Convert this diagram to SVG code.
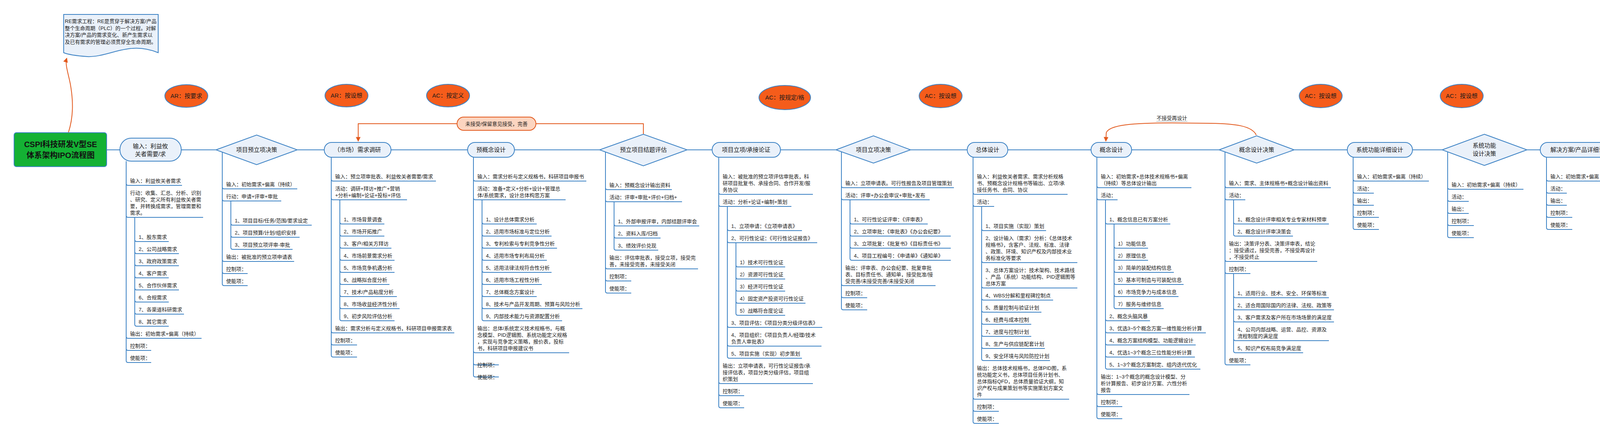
<svg xmlns="http://www.w3.org/2000/svg" width="6850" height="1125" viewBox="0 0 6850 1125">
<style>
.c{fill:none;stroke:#3C82C4;stroke-width:2}
.n{fill:#EAF1FA;stroke:#3C82C4;stroke-width:2}
.t{font-family:"Liberation Sans","Noto Sans CJK SC",sans-serif;font-size:13px;fill:#1a1a1a}
.nt{font-family:"Liberation Sans","Noto Sans CJK SC",sans-serif;font-size:15px;fill:#1a1a1a;text-anchor:middle}
.o{fill:none;stroke:#E2581C;stroke-width:2}
.e{fill:#F55C1B;stroke:#3C82C4;stroke-width:2}
</style>
<defs>
<marker id="ah" viewBox="0 0 10 10" refX="9" refY="5" markerWidth="6" markerHeight="6" orient="auto"><path d="M0,0 L10,5 L0,10 z" fill="#E2581C"/></marker>
</defs>
<rect width="6850" height="1125" fill="#fff"/>

<g id="connectors">
<path class="c" d="M273,384H6604"/>
<path class="c" d="M323,413V924 M345,557V831 M323,470Q323,475 328,475H466 M323,552Q323,557 328,557H520 M323,862Q323,867 328,867H516 M323,893Q323,898 328,898H387 M323,924Q323,929 328,929H387 M345,614Q345,619 350,619H432 M345,645Q345,650 350,650H458 M345,676Q345,681 350,681H458 M345,707Q345,712 350,712H432 M345,738Q345,743 350,743H458 M345,769Q345,774 350,774H432 M345,800Q345,805 350,805H471 M345,831Q345,836 350,836H432"/>
<path class="c" d="M569,384V727 M591,515V634 M569,479Q569,484 574,484H761 M569,510Q569,515 574,515H720 M569,665Q569,670 574,670H753 M569,696Q569,701 574,701H634 M569,727Q569,732 574,732H634 M591,572Q591,577 596,577H798 M591,603Q591,608 596,608H767 M591,634Q591,639 596,639H749"/>
<path class="c" d="M848,403V910 M870,512V817 M848,459Q848,464 853,464H1116 M848,507Q848,512 853,512H1042 M848,848Q848,853 853,853H1163 M848,879Q848,884 853,884H914 M848,910Q848,915 853,915H914 M870,569Q870,574 875,574H984 M870,600Q870,605 875,605H984 M870,631Q870,636 875,636H1002 M870,662Q870,667 875,667H1010 M870,693Q870,698 875,698H1010 M870,724Q870,729 875,729H997 M870,755Q870,760 875,760H1016 M870,786Q870,791 875,791H1023 M870,817Q870,822 875,822H1010"/>
<path class="c" d="M1212,403V961 M1234,512V817 M1212,459Q1212,464 1217,464H1501 M1212,507Q1212,512 1217,512H1448 M1212,899Q1212,904 1217,904H1457 M1212,930Q1212,935 1217,935H1277 M1212,961Q1212,966 1217,966H1277 M1234,569Q1234,574 1239,574H1374 M1234,600Q1234,605 1239,605H1412 M1234,631Q1234,636 1239,636H1426 M1234,662Q1234,667 1239,667H1400 M1234,693Q1234,698 1239,698H1412 M1234,724Q1234,729 1239,729H1387 M1234,755Q1234,760 1239,760H1374 M1234,786Q1234,791 1239,791H1491 M1234,817Q1234,822 1239,822H1439"/>
<path class="c" d="M1550,384V746 M1572,517V636 M1550,481Q1550,486 1555,486H1720 M1550,512Q1550,517 1555,517H1746 M1550,684Q1550,689 1555,689H1787 M1550,715Q1550,720 1555,720H1616 M1550,746Q1550,751 1555,751H1616 M1572,574Q1572,579 1577,579H1790 M1572,605Q1572,610 1577,610H1691 M1572,636Q1572,641 1577,641H1685"/>
<path class="c" d="M1840,403V1040 M1862,529V913 M1884,622V803 M1840,493Q1840,498 1845,498H2081 M1840,524Q1840,529 1845,529H2026 M1840,978Q1840,983 1845,983H2081 M1840,1009Q1840,1014 1845,1014H1905 M1840,1040Q1840,1045 1845,1045H1905 M1862,586Q1862,591 1867,591H2053 M1862,617Q1862,622 1867,622H2092 M1862,834Q1862,839 1867,839H2105 M1862,882Q1862,887 1867,887H2103 M1862,913Q1862,918 1867,918H2053 M1884,679Q1884,684 1889,684H2010 M1884,710Q1884,715 1889,715H2010 M1884,741Q1884,746 1889,746H2010 M1884,772Q1884,777 1889,777H2062 M1884,803Q1884,808 1889,808H2010"/>
<path class="c" d="M2154,384V789 M2176,512V662 M2154,476Q2154,481 2159,481H2442 M2154,507Q2154,512 2159,512H2380 M2154,727Q2154,732 2159,732H2395 M2154,758Q2154,763 2159,763H2220 M2154,789Q2154,794 2159,794H2220 M2176,569Q2176,574 2181,574H2375 M2176,600Q2176,605 2181,605H2434 M2176,631Q2176,636 2181,636H2434 M2176,662Q2176,667 2181,667H2434"/>
<path class="c" d="M2491,403V1080 M2513,529V919 M2491,493Q2491,498 2496,498H2733 M2491,524Q2491,529 2496,529H2545 M2491,1018Q2491,1023 2496,1023H2737 M2491,1049Q2491,1054 2496,1054H2557 M2491,1080Q2491,1085 2496,1085H2557 M2513,586Q2513,591 2518,591H2678 M2513,668Q2513,673 2518,673H2758 M2513,733Q2513,738 2518,738H2758 M2513,764Q2513,769 2518,769H2696 M2513,795Q2513,800 2518,800H2666 M2513,826Q2513,831 2518,831H2640 M2513,857Q2513,862 2518,862H2640 M2513,888Q2513,893 2518,893H2675 M2513,919Q2513,924 2518,924H2688"/>
<path class="c" d="M2808,403V1068 M2830,512V941 M2852,574V786 M2808,476Q2808,481 2813,481H3050 M2808,507Q2808,512 2813,512H2861 M2808,1006Q2808,1011 2813,1011H3045 M2808,1037Q2808,1042 2813,1042H2873 M2808,1068Q2808,1073 2813,1073H2873 M2830,569Q2830,574 2835,574H2996 M2830,817Q2830,822 2835,822H2944 M2830,848Q2830,853 2835,853H3087 M2830,879Q2830,884 2835,884H3061 M2830,910Q2830,915 2835,915H3059 M2830,941Q2830,946 2835,946H3073 M2852,631Q2852,636 2857,636H2939 M2852,662Q2852,667 2857,667H2939 M2852,693Q2852,698 2857,698H3005 M2852,724Q2852,729 2857,729H3030 M2852,755Q2852,760 2857,760H3017 M2852,786Q2852,791 2857,791H2979"/>
<path class="c" d="M3136,384V930 M3158,512V600 M3158,701V899 M3136,476Q3136,481 3141,481H3407 M3136,507Q3136,512 3141,512H3188 M3136,665Q3136,670 3141,670H3372 M3136,696Q3136,701 3141,701H3201 M3136,930Q3136,935 3141,935H3201 M3158,569Q3158,574 3163,574H3402 M3158,600Q3158,605 3163,605H3310 M3158,758Q3158,763 3163,763H3402 M3158,789Q3158,794 3163,794H3415 M3158,820Q3158,825 3163,825H3415 M3158,868Q3158,873 3163,873H3402 M3158,899Q3158,904 3163,904H3336"/>
<path class="c" d="M3464,403V583 M3464,459Q3464,464 3469,464H3658 M3464,490Q3464,495 3469,495H3517 M3464,521Q3464,526 3469,526H3517 M3464,552Q3464,557 3469,557H3530 M3464,583Q3464,588 3469,588H3530"/>
<path class="c" d="M3706,384V604 M3706,480Q3706,485 3711,485H3900 M3706,511Q3706,516 3711,516H3760 M3706,542Q3706,547 3711,547H3760 M3706,573Q3706,578 3711,578H3773 M3706,604Q3706,609 3711,609H3773"/>
<path class="c" d="M3959,403V583 M3959,459Q3959,464 3964,464H4153 M3959,490Q3959,495 3964,495H4011 M3959,521Q3959,526 3964,526H4011 M3959,552Q3959,557 3964,557H4025 M3959,583Q3959,588 3964,588H4025"/>
<path class="c" d="M4201,384V604 M4201,480Q4201,485 4206,485H4395 M4201,511Q4201,516 4206,516H4255 M4201,542Q4201,547 4206,547H4255 M4201,573Q4201,578 4206,578H4267 M4201,604Q4201,609 4206,609H4267"/>
<path class="c" d="M4453,403V583 M4453,459Q4453,464 4458,464H4647 M4453,490Q4453,495 4458,495H4507 M4453,521Q4453,526 4458,526H4507 M4453,552Q4453,557 4458,557H4520 M4453,583Q4453,588 4458,588H4520"/>
<path class="c" d="M4757,384V604 M4757,480Q4757,485 4762,485H4951 M4757,511Q4757,516 4762,516H4810 M4757,542Q4757,547 4762,547H4810 M4757,573Q4757,578 4762,578H4823 M4757,604Q4757,609 4762,609H4823"/>
<path class="c" d="M5023,403V583 M5023,459Q5023,464 5028,464H5217 M5023,490Q5023,495 5028,495H5076 M5023,521Q5023,526 5028,526H5076 M5023,552Q5023,557 5028,557H5089 M5023,583Q5023,588 5028,588H5089"/>
<path class="c" d="M5265,403V583 M5265,459Q5265,464 5270,464H5459 M5265,490Q5265,495 5270,495H5319 M5265,521Q5265,526 5270,526H5319 M5265,552Q5265,557 5270,557H5332 M5265,583Q5265,588 5270,588H5332"/>
<path class="c" d="M5508,403V583 M5508,459Q5508,464 5513,464H5702 M5508,490Q5508,495 5513,495H5561 M5508,521Q5508,526 5513,526H5561 M5508,552Q5508,557 5513,557H5574 M5508,583Q5508,588 5513,588H5574"/>
<path class="c" d="M5751,403V583 M5751,459Q5751,464 5756,464H5945 M5751,490Q5751,495 5756,495H5804 M5751,521Q5751,526 5756,526H5804 M5751,552Q5751,557 5756,557H5817 M5751,583Q5751,588 5756,588H5817"/>
<path class="c" d="M5993,403V851 M6015,512V724 M5993,476Q5993,481 5998,481H6230 M5993,507Q5993,512 5998,512H6047 M5993,789Q5993,794 5998,794H6230 M5993,820Q5993,825 5998,825H6059 M5993,851Q5993,856 5998,856H6059 M6015,569Q6015,574 6020,574H6168 M6015,600Q6015,605 6020,605H6155 M6015,631Q6015,636 6020,636H6129 M6015,662Q6015,667 6020,667H6194 M6015,693Q6015,698 6020,698H6194 M6015,724Q6015,729 6020,729H6208"/>
<path class="c" d="M6279,403V893 M6301,495V800 M6279,459Q6279,464 6284,464H6472 M6279,490Q6279,495 6284,495H6331 M6279,831Q6279,836 6284,836H6331 M6279,862Q6279,867 6284,867H6345 M6279,893Q6279,898 6284,898H6345 M6301,552Q6301,557 6306,557H6388 M6301,583Q6301,588 6306,588H6413 M6301,614Q6301,619 6306,619H6519 M6301,645Q6301,650 6306,650H6440 M6301,676Q6301,681 6306,681H6440 M6301,707Q6301,712 6306,712H6440 M6301,738Q6301,743 6306,743H6427 M6301,769Q6301,774 6306,774H6571 M6301,800Q6301,805 6306,805H6466"/>
<path class="c" d="M6620,403V583 M6620,459Q6620,464 6625,464H6814 M6620,490Q6620,495 6625,495H6673 M6620,521Q6620,526 6625,526H6673 M6620,552Q6620,557 6625,557H6685 M6620,583Q6620,588 6625,588H6685"/>
<path class="o" d="M175,340C188,300 188,260 180,215C174,185 166,165 171,149" marker-end="url(#ah)"/>
<path class="o" d="M1170,317H917V362" marker-end="url(#ah)"/>
<path class="o" d="M1372,317H1647V345"/>
<path class="o" d="M3216,346C3205,322 3160,317 3100,316L3000,315C2900,315 2840,320 2832,340L2831,362" marker-end="url(#ah)"/>
<line x1="2960" y1="311" x2="3040" y2="311" stroke="#9a9a9a" stroke-width="1"/>
<text class="t" x="3000" y="307" text-anchor="middle" fill="#555">不接受再设计</text>
</g>

<g id="note">
<path d="M163,37H405V135C385,127 365,122 339,124C300,126 260,147 223,145C195,143 175,140 163,135Z" fill="#EAF1FA" stroke="#3C82C4" stroke-width="2"/>
<text class="t" x="166" y="59">RE需求工程：RE是贯穿于解决方案/产品<tspan x="166" dy="17.6">整个生命周期（PLC）的一个过程。对解</tspan><tspan x="166" dy="17.6">决方案/产品的需求变化、新产生需求以</tspan><tspan x="166" dy="17.6">及已有需求的管理必须贯穿全生命周期。</tspan></text>
</g>

<g id="root">
<rect x="36" y="340" width="237" height="87" rx="6" fill="#14B134" stroke="#3C82C4" stroke-width="2"/>
<text x="155" y="377" text-anchor="middle" font-family="Liberation Sans,Noto Sans CJK SC,sans-serif" font-size="20" font-weight="bold" fill="#111">CSPI科技研发V型SE<tspan x="155" dy="28">体系架构IPO流程图</tspan></text>
</g>

<g id="labels">
<g id="ar1"><ellipse class="e" cx="477" cy="246" rx="55" ry="29"/><text class="nt" x="477" y="251">AR：按要求</text></g>
<g id="ar2"><ellipse class="e" cx="887" cy="245" rx="55" ry="29"/><text class="nt" x="887" y="250">AR：按设想</text></g>
<g id="ac1"><ellipse class="e" cx="1147" cy="245" rx="55" ry="29"/><text class="nt" x="1147" y="250">AC：按定义</text></g>
<g id="ac2"><ellipse class="e" cx="2009" cy="250" rx="66" ry="31"/><text class="nt" x="2009" y="255">AC：按规定/格</text></g>
<g id="ac3"><ellipse class="e" cx="2408" cy="246" rx="55" ry="30"/><text class="nt" x="2408" y="251">AC：按设想</text></g>
<g id="ac4"><ellipse class="e" cx="3381" cy="246" rx="55" ry="30"/><text class="nt" x="3381" y="251">AC：按设想</text></g>
<g id="ac5"><ellipse class="e" cx="3742" cy="246" rx="55" ry="30"/><text class="nt" x="3742" y="251">AC：按设想</text></g>
<g id="feedback"><rect x="1170" y="300" width="202" height="34" rx="17" fill="#FCD5C0" stroke="#E2581C" stroke-width="2"/><text class="t" x="1271" y="322" text-anchor="middle">未接受/保留意见接受，完善</text></g>
</g>

<g id="n1">
<rect class="n" x="307" y="354" width="157" height="59" rx="29"/>
<text class="nt" x="385" y="380">输入：利益攸<tspan x="385" dy="20">关者需要/求</tspan></text>
<text class="t" x="333" y="468">输入：利益攸关者需求</text>
<text class="t" x="333" y="499">行动：收集、汇总、分析、识别<tspan x="333" dy="17">、研究、定义所有利益攸关者需</tspan><tspan x="333" dy="17">要，并转换成需求，管理需要和</tspan><tspan x="333" dy="17">需求。</tspan></text>
<text class="t" x="355" y="612">1、股东需求</text>
<text class="t" x="355" y="643">2、公司战略需求</text>
<text class="t" x="355" y="674">3、政府政策需求</text>
<text class="t" x="355" y="705">4、客户需求</text>
<text class="t" x="355" y="736">5、合作伙伴需求</text>
<text class="t" x="355" y="767">6、合规需求</text>
<text class="t" x="355" y="798">7、各渠道科研需求</text>
<text class="t" x="355" y="829">8、其它需求</text>
<text class="t" x="333" y="860">输出：初始需求+偏离（持续）</text>
<text class="t" x="333" y="891">控制项：</text>
<text class="t" x="333" y="922">使能项：</text>
</g>

<g id="n2">
<polygon class="n" points="553,384 657,346 761,384 657,422"/>
<text class="nt" x="657" y="389">项目预立项决策</text>
<text class="t" x="579" y="477">输入：初始需求+偏离（持续）</text>
<text class="t" x="579" y="508">行动：申请+评审+审批</text>
<text class="t" x="601" y="570">1、项目目标/任务/范围/要求设定</text>
<text class="t" x="601" y="601">2、项目预算/计划/组织安排</text>
<text class="t" x="601" y="632">3、项目预立项评审-审批</text>
<text class="t" x="579" y="663">输出：被批准的预立项申请表</text>
<text class="t" x="579" y="694">控制项：</text>
<text class="t" x="579" y="725">使能项：</text>
</g>

<g id="n3">
<rect class="n" x="830" y="365" width="171" height="38" rx="19"/>
<text class="nt" x="915" y="389">（市场）需求调研</text>
<text class="t" x="858" y="457">输入：预立项审批表、利益攸关者需要/需求</text>
<text class="t" x="858" y="488">活动：调研+拜访+推广+营销<tspan x="858" dy="17">+分析+编制+论证+投标+评估</tspan></text>
<text class="t" x="880" y="567">1、市场背景调查</text>
<text class="t" x="880" y="598">2、市场开拓推广</text>
<text class="t" x="880" y="629">3、客户/相关方拜访</text>
<text class="t" x="880" y="660">4、市场前景需求分析</text>
<text class="t" x="880" y="691">5、市场竞争机遇分析</text>
<text class="t" x="880" y="722">6、战略拟合度分析</text>
<text class="t" x="880" y="753">7、技术/产品粘度分析</text>
<text class="t" x="880" y="784">8、市场收益经济性分析</text>
<text class="t" x="880" y="815">9、初步风险评估分析</text>
<text class="t" x="858" y="846">输出：需求分析与定义规格书，科研项目申报需求表</text>
<text class="t" x="858" y="877">控制项：</text>
<text class="t" x="858" y="908">使能项：</text>
</g>

<g id="n4">
<rect class="n" x="1197" y="365" width="120" height="38" rx="19"/>
<text class="nt" x="1257" y="389">预概念设计</text>
<text class="t" x="1222" y="457">输入：需求分析与定义规格书，科研项目申报书</text>
<text class="t" x="1222" y="488">活动：准备+定义+分析+设计+管理总<tspan x="1222" dy="17">体/系统需求，设计总体构思方案</tspan></text>
<text class="t" x="1244" y="567">1、设计总体需求分析</text>
<text class="t" x="1244" y="598">2、适用市场标准与定位分析</text>
<text class="t" x="1244" y="629">3、专利检索与专利竞争性分析</text>
<text class="t" x="1244" y="660">4、适用市场专利布局分析</text>
<text class="t" x="1244" y="691">5、适用法律法规符合性分析</text>
<text class="t" x="1244" y="722">6、适用市场工程性分析</text>
<text class="t" x="1244" y="753">7、总体概念方案设计</text>
<text class="t" x="1244" y="784">8、技术与产品开发周期、预算与风险分析</text>
<text class="t" x="1244" y="815">9、内部技术能力与资源配置分析</text>
<text class="t" x="1222" y="846">输出：总体/系统定义技术规格书，与概<tspan x="1222" dy="17">念模型、PID逻辑图、系统功能定义规格</tspan><tspan x="1222" dy="17">，实现与竞争定义策略，报价表，投标</tspan><tspan x="1222" dy="17">书，科研项目申报建议书</tspan></text>
<text class="t" x="1222" y="940">控制项：</text>
<text class="t" x="1222" y="971">使能项：</text>
</g>

<g id="n5">
<polygon class="n" points="1535,384 1647,344 1759,384 1647,425"/>
<text class="nt" x="1647" y="389">预立项目结题评估</text>
<text class="t" x="1560" y="479">输入：预概念设计输出资料</text>
<text class="t" x="1560" y="510">活动：评审+审批+评价+归档+</text>
<text class="t" x="1582" y="572">1、外部申报评审，内部结题评审会</text>
<text class="t" x="1582" y="603">2、资料入库/归档</text>
<text class="t" x="1582" y="634">3、绩效评价兑现</text>
<text class="t" x="1560" y="665">输出：评估审批表，接受立项，接受完<tspan x="1560" dy="17">善，未接受完善，未接受关闭</tspan></text>
<text class="t" x="1560" y="713">控制项：</text>
<text class="t" x="1560" y="744">使能项：</text>
</g>

<g id="n6">
<rect class="n" x="1823" y="365" width="175" height="38" rx="19"/>
<text class="nt" x="1910" y="389">项目立项/承接论证</text>
<text class="t" x="1850" y="457">输入：被批准的预立项评估审批表，科<tspan x="1850" dy="17">研项目批复书、承接合同、合作开发/服</tspan><tspan x="1850" dy="17">务协议</tspan></text>
<text class="t" x="1850" y="522">活动：分析+论证+编制+策划</text>
<text class="t" x="1872" y="584">1、立项申请：《立项申请表》</text>
<text class="t" x="1872" y="615">2、可行性论证：《可行性论证报告》</text>
<text class="t" x="1894" y="677">1）技术可行性论证</text>
<text class="t" x="1894" y="708">2）资源可行性论证</text>
<text class="t" x="1894" y="739">3）经济可行性论证</text>
<text class="t" x="1894" y="770">4）固定资产投资可行性论证</text>
<text class="t" x="1894" y="801">5）战略符合度论证</text>
<text class="t" x="1872" y="832">3、项目评估：《项目分类分级评估表》</text>
<text class="t" x="1872" y="863">4、项目组织：《项目负责人/经理/技术<tspan x="1872" dy="17">负责人审批表》</tspan></text>
<text class="t" x="1872" y="911">5、项目实施（实现）初步策划</text>
<text class="t" x="1850" y="942">输出：立项申请表，可行性论证报告/承<tspan x="1850" dy="17">接评估表，项目分类分级评估，项目组</tspan><tspan x="1850" dy="17">织策划</tspan></text>
<text class="t" x="1850" y="1007">控制项：</text>
<text class="t" x="1850" y="1038">使能项：</text>
</g>

<g id="n7">
<polygon class="n" points="2140,384 2236,348 2331,384 2236,418"/>
<text class="nt" x="2236" y="389">项目立项决策</text>
<text class="t" x="2164" y="474">输入：立项申请表。可行性报告及项目管理策划</text>
<text class="t" x="2164" y="505">活动：评审+办公会审议+审批+发布</text>
<text class="t" x="2186" y="567">1、可行性论证评审：《评审表》</text>
<text class="t" x="2186" y="598">2、立项审批：《审批表》《办公会纪要》</text>
<text class="t" x="2186" y="629">3、立项批复：《批复书》《目标责任书》</text>
<text class="t" x="2186" y="660">4、项目工程编号：《申请单》《通知单》</text>
<text class="t" x="2164" y="691">输出：评审表、办公会纪要、批复审批<tspan x="2164" dy="17">表、目标责任书、通知单，接受批准/接</tspan><tspan x="2164" dy="17">受完善/未接受完善/未接受关闭</tspan></text>
<text class="t" x="2164" y="756">控制项：</text>
<text class="t" x="2164" y="787">使能项：</text>
</g>

<g id="n8">
<rect class="n" x="2476" y="365" width="104" height="38" rx="19"/>
<text class="nt" x="2528" y="389">总体设计</text>
<text class="t" x="2501" y="457">输入：利益攸关者需求、需求分析规格<tspan x="2501" dy="17">书、预概念设计规格书等输出、立项/承</tspan><tspan x="2501" dy="17">接任务书、合同、协议</tspan></text>
<text class="t" x="2501" y="522">活动：</text>
<text class="t" x="2523" y="584">1、项目实施（实现）策划</text>
<text class="t" x="2523" y="615">2、设计输入（需求）分析：《总体技术<tspan x="2523" dy="17">规格书》，含客户、法规、标准、法律</tspan><tspan x="2523" dy="17">、政策、环境、知识产权及内部技术业</tspan><tspan x="2523" dy="17">务标准化等要求</tspan></text>
<text class="t" x="2523" y="697">3、总体方案设计：技术架构、技术路线<tspan x="2523" dy="17">、产品（系统）功能结构、PID逻辑图等</tspan><tspan x="2523" dy="17">总体方案</tspan></text>
<text class="t" x="2523" y="762">4、WBS分解和里程碑控制点</text>
<text class="t" x="2523" y="793">5、质量控制与验证计划</text>
<text class="t" x="2523" y="824">6、经费与成本控制</text>
<text class="t" x="2523" y="855">7、进度与控制计划</text>
<text class="t" x="2523" y="886">8、生产与供应链配套计划</text>
<text class="t" x="2523" y="917">9、安全环境与风险防控计划</text>
<text class="t" x="2501" y="948">输出：总体技术规格书，总体PID图，系<tspan x="2501" dy="17">统功能定义书，总体项目任务计划书、</tspan><tspan x="2501" dy="17">总体指标QFD，总体质量验证大纲，知</tspan><tspan x="2501" dy="17">识产权与成果策划书等实施策划方案文</tspan><tspan x="2501" dy="17">件</tspan></text>
<text class="t" x="2501" y="1047">控制项：</text>
<text class="t" x="2501" y="1078">使能项：</text>
</g>

<g id="n9">
<rect class="n" x="2793" y="365" width="104" height="38" rx="19"/>
<text class="nt" x="2845" y="389">概念设计</text>
<text class="t" x="2818" y="457">输入：初始需求+总体技术规格书+偏离<tspan x="2818" dy="17">（持续）等总体设计输出</tspan></text>
<text class="t" x="2818" y="505">活动：</text>
<text class="t" x="2840" y="567">1、概念信息已有方案分析</text>
<text class="t" x="2862" y="629">1）功能信息</text>
<text class="t" x="2862" y="660">2）原理信息</text>
<text class="t" x="2862" y="691">3）简单的装配结构信息</text>
<text class="t" x="2862" y="722">5）基本可制造与可装配信息</text>
<text class="t" x="2862" y="753">6）市场竞争力与成本信息</text>
<text class="t" x="2862" y="784">7）服务与维修信息</text>
<text class="t" x="2840" y="815">2、概念头脑风暴</text>
<text class="t" x="2840" y="846">3、优选3~5个概念方案一维性能分析计算</text>
<text class="t" x="2840" y="877">4、概念方案结构模型、功能逻辑设计</text>
<text class="t" x="2840" y="908">4、优选1~3个概念三位性能分析计算</text>
<text class="t" x="2840" y="939">5、1~3个概念方案制定、组内迭代优化</text>
<text class="t" x="2818" y="970">输出：1~3个概念的概念设计模型、分<tspan x="2818" dy="17">析计算报告、初步设计方案、六性分析</tspan><tspan x="2818" dy="17">报告</tspan></text>
<text class="t" x="2818" y="1035">控制项：</text>
<text class="t" x="2818" y="1066">使能项：</text>
</g>

<g id="n10">
<polygon class="n" points="3121,384 3217,348 3313,384 3217,418"/>
<text class="nt" x="3217" y="389">概念设计决策</text>
<text class="t" x="3146" y="474">输入：需求、主体规格书+概念设计输出资料</text>
<text class="t" x="3146" y="505">活动：</text>
<text class="t" x="3168" y="567">1、概念设计评审相关专业专家材料预审</text>
<text class="t" x="3168" y="598">2、概念设计评审决策会</text>
<text class="t" x="3146" y="629">输出：决策评分表、决策评审表，结论<tspan x="3146" dy="17">：接受通过，接受完善，不接受再设计</tspan><tspan x="3146" dy="17">，不接受终止</tspan></text>
<text class="t" x="3146" y="694">控制项：</text>
<text class="t" x="3168" y="756">1、适用行业、技术、安全、环保等标准</text>
<text class="t" x="3168" y="787">2、适合用国际国内的法律、法规、政策等</text>
<text class="t" x="3168" y="818">3、客户需求及客户所在市场场景的满足度</text>
<text class="t" x="3168" y="849">4、公司内部战略、运营、品控、资源及<tspan x="3168" dy="17">流程制度的满足度</tspan></text>
<text class="t" x="3168" y="897">5、知识产权布局竞争满足度</text>
<text class="t" x="3146" y="928">使能项：</text>
</g>

<g id="n11">
<rect class="n" x="3449" y="365" width="167" height="38" rx="19"/>
<text class="nt" x="3532" y="389">系统功能详细设计</text>
<text class="t" x="3474" y="457">输入：初始需求+偏离（持续）</text>
<text class="t" x="3474" y="488">活动：</text>
<text class="t" x="3474" y="519">输出：</text>
<text class="t" x="3474" y="550">控制项：</text>
<text class="t" x="3474" y="581">使能项：</text>
</g>

<g id="n12">
<polygon class="n" points="3692,384 3800,344 3909,384 3800,424"/>
<text class="nt" x="3800" y="378">系统功能<tspan x="3800" dy="21">设计决策</tspan></text>
<text class="t" x="3716" y="478">输入：初始需求+偏离（持续）</text>
<text class="t" x="3716" y="509">活动：</text>
<text class="t" x="3716" y="540">输出：</text>
<text class="t" x="3716" y="571">控制项：</text>
<text class="t" x="3716" y="602">使能项：</text>
</g>

<g id="n13">
<rect class="n" x="3943" y="365" width="206" height="38" rx="19"/>
<text class="nt" x="4046" y="389">解决方案/产品详细设计</text>
<text class="t" x="3969" y="457">输入：初始需求+偏离（持续）</text>
<text class="t" x="3969" y="488">活动：</text>
<text class="t" x="3969" y="519">输出：</text>
<text class="t" x="3969" y="550">控制项：</text>
<text class="t" x="3969" y="581">使能项：</text>
</g>

<g id="n14">
<polygon class="n" points="4186,384 4294,344 4402,384 4294,424"/>
<text class="nt" x="4294" y="378">详细设计<tspan x="4294" dy="21">方案决策</tspan></text>
<text class="t" x="4211" y="478">输入：初始需求+偏离（持续）</text>
<text class="t" x="4211" y="509">活动：</text>
<text class="t" x="4211" y="540">输出：</text>
<text class="t" x="4211" y="571">控制项：</text>
<text class="t" x="4211" y="602">使能项：</text>
</g>

<g id="n15">
<rect class="n" x="4438" y="365" width="269" height="38" rx="19"/>
<text class="nt" x="4572" y="389">解决方案/产品（实例）工程设计</text>
<text class="t" x="4463" y="457">输入：初始需求+偏离（持续）</text>
<text class="t" x="4463" y="488">活动：</text>
<text class="t" x="4463" y="519">输出：</text>
<text class="t" x="4463" y="550">控制项：</text>
<text class="t" x="4463" y="581">使能项：</text>
</g>

<g id="n16">
<polygon class="n" points="4742,384 4857,342 4972,384 4857,425"/>
<text class="nt" x="4857" y="389">工程设计批准/发布</text>
<text class="t" x="4767" y="478">输入：初始需求+偏离（持续）</text>
<text class="t" x="4767" y="509">活动：</text>
<text class="t" x="4767" y="540">输出：</text>
<text class="t" x="4767" y="571">控制项：</text>
<text class="t" x="4767" y="602">使能项：</text>
</g>

<g id="n17">
<rect class="n" x="5008" y="365" width="105" height="38" rx="19"/>
<text class="nt" x="5060" y="389">产品制造</text>
<text class="t" x="5033" y="457">输入：初始需求+偏离（持续）</text>
<text class="t" x="5033" y="488">活动：</text>
<text class="t" x="5033" y="519">输出：</text>
<text class="t" x="5033" y="550">控制项：</text>
<text class="t" x="5033" y="581">使能项：</text>
</g>

<g id="n18">
<rect class="n" x="5250" y="365" width="105" height="38" rx="19"/>
<text class="nt" x="5302" y="389">物流配套</text>
<text class="t" x="5275" y="457">输入：初始需求+偏离（持续）</text>
<text class="t" x="5275" y="488">活动：</text>
<text class="t" x="5275" y="519">输出：</text>
<text class="t" x="5275" y="550">控制项：</text>
<text class="t" x="5275" y="581">使能项：</text>
</g>

<g id="n19">
<rect class="n" x="5493" y="365" width="73" height="38" rx="19"/>
<text class="nt" x="5529" y="389">组装</text>
<text class="t" x="5518" y="457">输入：初始需求+偏离（持续）</text>
<text class="t" x="5518" y="488">活动：</text>
<text class="t" x="5518" y="519">输出：</text>
<text class="t" x="5518" y="550">控制项：</text>
<text class="t" x="5518" y="581">使能项：</text>
</g>

<g id="n20">
<rect class="n" x="5735" y="365" width="105" height="38" rx="19"/>
<text class="nt" x="5787" y="389">试验验证</text>
<text class="t" x="5761" y="457">输入：初始需求+偏离（持续）</text>
<text class="t" x="5761" y="488">活动：</text>
<text class="t" x="5761" y="519">输出：</text>
<text class="t" x="5761" y="550">控制项：</text>
<text class="t" x="5761" y="581">使能项：</text>
</g>

<g id="n21">
<rect class="n" x="5978" y="365" width="74" height="38" rx="19"/>
<text class="nt" x="6015" y="389">交付</text>
<text class="t" x="6003" y="457">输入：客户合同、技术协议，产品，交<tspan x="6003" dy="17">付物品清单、证书、资料</tspan></text>
<text class="t" x="6003" y="505">活动：</text>
<text class="t" x="6025" y="567">1、运输、产品实物交付</text>
<text class="t" x="6025" y="598">2、存放维护服务支持</text>
<text class="t" x="6025" y="629">3、安装技术服务</text>
<text class="t" x="6025" y="660">4、现场调试与试验技术服务</text>
<text class="t" x="6025" y="691">5、产品性能验证、取证交付</text>
<text class="t" x="6025" y="722">6、科研项目按照来源制度结题</text>
<text class="t" x="6003" y="753">输出：客户签收交付确认单，客户、第<tspan x="6003" dy="17">三方验证确认单、服务确认单、客户满</tspan><tspan x="6003" dy="17">意度反馈表</tspan></text>
<text class="t" x="6003" y="818">控制项：</text>
<text class="t" x="6003" y="849">使能项：</text>
</g>

<g id="n22">
<rect class="n" x="6262" y="365" width="138" height="38" rx="19"/>
<text class="nt" x="6331" y="389">（运行）服务</text>
<text class="t" x="6289" y="457">输入：初始需求+偏离（持续）</text>
<text class="t" x="6289" y="488">活动：</text>
<text class="t" x="6311" y="550">1、远程监测</text>
<text class="t" x="6311" y="581">2、定期咨询服务</text>
<text class="t" x="6311" y="612">3、即时运维现场检查技术服务支持</text>
<text class="t" x="6311" y="643">4、故障维修技术服务</text>
<text class="t" x="6311" y="674">5、备件配件销售服务</text>
<text class="t" x="6311" y="705">6、关键运营服务支持</text>
<text class="t" x="6311" y="736">7、动力与能源服务</text>
<text class="t" x="6311" y="767">8、服务与制造、研发系统技术反馈分析评估</text>
<text class="t" x="6311" y="798">9、客户技术服务交流论坛</text>
<text class="t" x="6289" y="829">输出：</text>
<text class="t" x="6289" y="860">控制项：</text>
<text class="t" x="6289" y="891">使能项：</text>
</g>

<g id="n23">
<rect class="n" x="6604" y="365" width="137" height="38" rx="19"/>
<text class="nt" x="6672" y="389">（报废）回收</text>
<text class="t" x="6630" y="457">输入：初始需求+偏离（持续）</text>
<text class="t" x="6630" y="488">活动：</text>
<text class="t" x="6630" y="519">输出：</text>
<text class="t" x="6630" y="550">控制项：</text>
<text class="t" x="6630" y="581">使能项：</text>
</g>
</svg>
